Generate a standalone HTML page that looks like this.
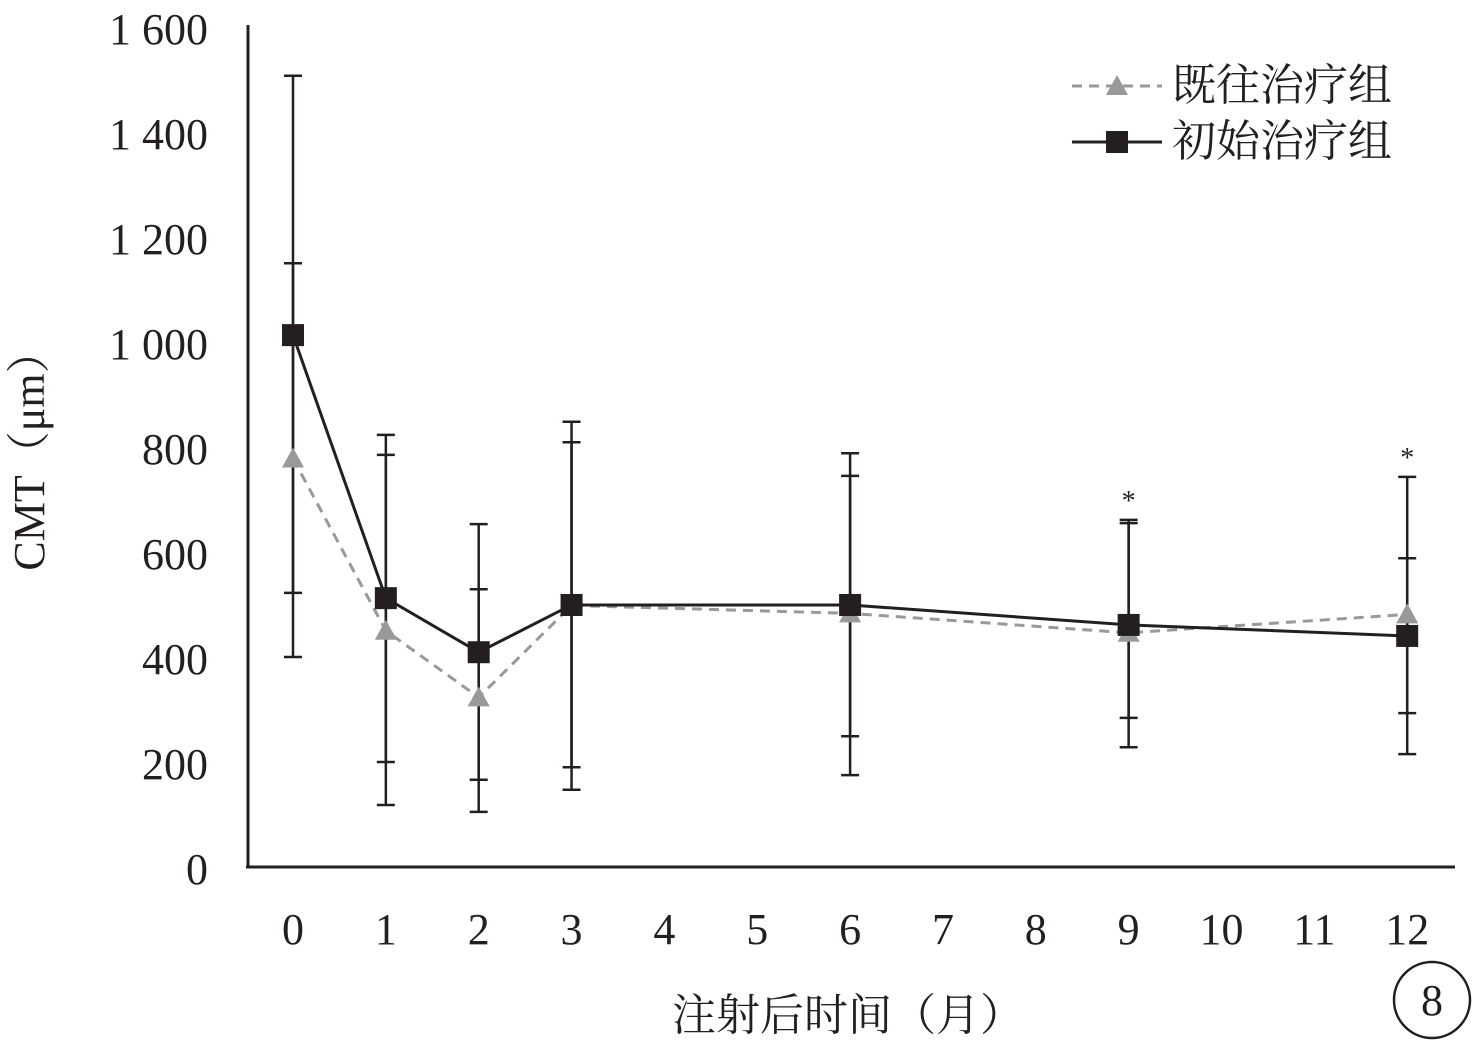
<!DOCTYPE html>
<html><head><meta charset="utf-8"><style>
body{margin:0;background:#fff}
svg text{font-family:"Liberation Serif","Noto Serif CJK SC",serif;fill:#231f20}
</style></head><body>
<svg width="1476" height="1045" id="chart">
<g id="g"></g>
</svg>
<script>
const months=[0,1,2,3,6,9,12];
const initialMean=[1015,514,411,501,501,463,442];
const initialUpper=[1509,825,655,850,790,663,745];
const initialLower=[402,120,107,149,177,230,217];
const priorMean=[780,452,325,500,485,448,483];
const priorUpper=[1152,787,531,811,747,657,590];
const priorLower=[524,202,168,192,251,286,295];
const yTicks=[0,200,400,600,800,1000,1200,1400,1600];
const yTickLabels=["0","200","400","600","800","1 000","1 200","1 400","1 600"];
const xTicks=[0,1,2,3,4,5,6,7,8,9,10,11,12];
const starMonths=[9,12];
const X=m=>293+m*92.85;
const Y=v=>868-v*0.525;
const NS="http://www.w3.org/2000/svg";
const g=document.getElementById('g');
function mk(t,a,txt){const e=document.createElementNS(NS,t);for(const k in a)e.setAttribute(k,a[k]);if(txt!=null)e.textContent=txt;g.appendChild(e);return e;}
let e;
e=mk('line',{x1:248,y1:25,x2:248,y2:868,stroke:'#231f20','stroke-width':3});


e=mk('line',{x1:246,y1:867,x2:1455,y2:867,stroke:'#231f20','stroke-width':3});


yTicks.forEach((v,i)=>{e=mk('text',{x:208,y:Y(v)+16,'text-anchor':'end','font-size':44},yTickLabels[i]);

});
xTicks.forEach(m=>{e=mk('text',{x:X(m),y:944,'text-anchor':'middle','font-size':44},String(m));

});
e=mk('text',{x:0,y:0,'text-anchor':'middle','font-size':44,transform:'translate(44,450) rotate(-90)'},'CMT（μm）');


e=mk('text',{x:848,y:1030,'text-anchor':'middle','font-size':44},'注射后时间（月）');


function errs(mean,up,lo,name){months.forEach((m,i)=>{const x=X(m);
e=mk('line',{x1:x,y1:Y(up[i]),x2:x,y2:Y(lo[i]),stroke:'#231f20','stroke-width':2.5});


[up[i],lo[i]].forEach(v=>{e=mk('line',{x1:x-9,y1:Y(v),x2:x+9,y2:Y(v),stroke:'#231f20','stroke-width':2.5});

});});}
errs(priorMean,priorUpper,priorLower,'prior');
errs(initialMean,initialUpper,initialLower,'initial');
const pp=months.map((m,i)=>X(m)+','+Y(priorMean[i])).join(' ');
e=mk('polyline',{points:pp,fill:'none',stroke:'#999','stroke-width':3,'stroke-dasharray':'10,7'});


months.forEach((m,i)=>{const x=X(m),y=Y(priorMean[i]);
e=mk('polygon',{points:`${x},${y-11} ${x-11},${y+9} ${x+11},${y+9}`,fill:'#999'});

});
const ip=months.map((m,i)=>X(m)+','+Y(initialMean[i])).join(' ');
e=mk('polyline',{points:ip,fill:'none',stroke:'#231f20','stroke-width':3});


months.forEach((m,i)=>{const x=X(m),y=Y(initialMean[i]);
e=mk('rect',{x:x-11,y:y-11,width:22,height:22,fill:'#231f20'});

});
starMonths.forEach(m=>{const i=months.indexOf(m);const top=Math.max(initialUpper[i],priorUpper[i]);
e=mk('text',{x:X(m),y:Y(top)-10,'text-anchor':'middle','font-size':28},'*');

});
e=mk('line',{x1:1072,y1:86,x2:1162,y2:86,stroke:'#999','stroke-width':3,'stroke-dasharray':'10,7'});


e=mk('polygon',{points:'1117,75 1106,95 1128,95',fill:'#999'});


e=mk('text',{x:1172,y:100,'font-size':44},'既往治疗组');


e=mk('line',{x1:1072,y1:142,x2:1162,y2:142,stroke:'#231f20','stroke-width':3});


e=mk('rect',{x:1106,y:131,width:22,height:22,fill:'#231f20'});


e=mk('text',{x:1172,y:156,'font-size':44},'初始治疗组');


e=mk('circle',{cx:1432,cy:1000,r:38,fill:'none',stroke:'#231f20','stroke-width':2.5});


e=mk('text',{x:1432,y:1015,'text-anchor':'middle','font-size':44},'8');


</script>
</body></html>
